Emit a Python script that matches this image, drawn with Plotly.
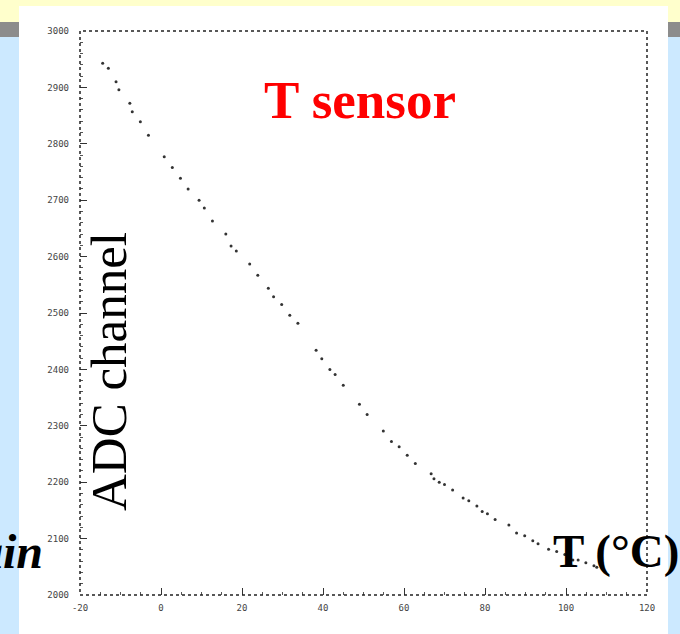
import plotly.graph_objects as go

# ---- data ----
temperature_c = [-14.4, -13.0, -11.1, -10.4, -7.7, -7.1, -5.1, -3.1, 0.8, 2.8, 4.8, 6.7,
                 9.4, 10.7, 12.7, 16.0, 17.3, 18.6, 21.9, 23.9, 26.5, 27.8, 29.8, 31.8,
                 33.8, 38.3, 39.7, 41.7, 43.0, 45.0, 49.0, 50.9, 54.9, 56.9, 58.8, 60.8,
                 62.8, 66.7, 67.4, 68.7, 70.0, 72.0, 74.6, 76.0, 78.0, 79.3, 80.6, 82.5,
                 85.9, 87.8, 89.8, 91.8, 93.1, 95.7, 97.7, 99.7, 101.7, 103.0, 104.9,
                 106.9, 107.6, 108.9]
adc_channel = [2943, 2934, 2910, 2896, 2872, 2857, 2839, 2815, 2777, 2758, 2739, 2720,
               2700, 2686, 2663, 2640, 2619, 2610, 2587, 2567, 2544, 2529, 2515, 2496,
               2482, 2434, 2419, 2400, 2391, 2372, 2338, 2320, 2291, 2272, 2263, 2248,
               2233, 2215, 2206, 2200, 2196, 2186, 2172, 2167, 2158, 2148, 2144, 2134,
               2124, 2110, 2105, 2096, 2091, 2081, 2077, 2072, 2062, 2062, 2057, 2052,
               2049, 2048]
x_ticks = [-20, 0, 20, 40, 60, 80, 100, 120]
y_ticks = [2000, 2100, 2200, 2300, 2400, 2500, 2600, 2700, 2800, 2900, 3000]

title_text = "T sensor"
x_label = "T (°C)"
y_label = "ADC channel"
side_text = "ain"

# ---- layout geometry (pixels) ----
W, H = 680, 634
L, R, T, B = 80, 647, 31, 595


def px(xp):
    return (xp - L) / (R - L)


def py(yp):
    return (B - yp) / (B - T)


fig = go.Figure()
fig.add_trace(go.Scatter(
    x=temperature_c, y=adc_channel, mode="markers",
    marker=dict(size=3, color="#333333"),
    showlegend=False, hoverinfo="skip"))

shapes = [
    # slide background bands
    dict(type="rect", xref="paper", yref="paper", x0=px(0), x1=px(W), y0=py(0), y1=py(22),
         fillcolor="#FFFFCC", line=dict(width=0), layer="below"),
    dict(type="rect", xref="paper", yref="paper", x0=px(0), x1=px(W), y0=py(22), y1=py(37),
         fillcolor="#8C8C8C", line=dict(width=0), layer="below"),
    # white panel
    dict(type="rect", xref="paper", yref="paper", x0=px(19), x1=px(668), y0=py(6), y1=py(H + 5),
         fillcolor="white", line=dict(width=0), layer="below"),
    # dotted frame
    dict(type="rect", xref="paper", yref="paper", x0=0, x1=1, y0=0, y1=1,
         line=dict(color="#222222", width=1.5, dash="dot"), layer="above"),
]

annotations = [
    dict(text=title_text, xref="paper", yref="paper", x=px(360), y=py(100),
         showarrow=False, xanchor="center", yanchor="middle",
         font=dict(family="Liberation Serif", size=53, color="#FF0000", weight="bold")),
    dict(text=y_label, xref="paper", yref="paper", x=px(109), y=py(372),
         showarrow=False, xanchor="center", yanchor="middle", textangle=-90,
         font=dict(family="Liberation Serif", size=51, color="black")),
    dict(text=x_label, xref="paper", yref="paper", x=px(551), y=py(551),
         showarrow=False, xanchor="left", yanchor="middle",
         font=dict(family="Liberation Serif", size=47, color="black", weight="bold")),
    dict(text="<i>" + side_text + "</i>", xref="paper", yref="paper", x=px(45), y=py(551),
         showarrow=False, xanchor="right", yanchor="middle",
         font=dict(family="Liberation Serif", size=48, color="black", weight="bold")),
]

tickfont = dict(family="DejaVu Sans Mono", size=9, color="#444444")

fig.update_layout(
    width=W, height=H,
    margin=dict(l=L, r=W - R, t=T, b=H - B, pad=0),
    paper_bgcolor="#CCE9FF", plot_bgcolor="white",
    shapes=shapes, annotations=annotations,
    xaxis=dict(range=[-20, 120], tickvals=x_ticks, ticktext=[str(v) for v in x_ticks],
               ticks="inside", ticklen=7, tickcolor="#333333", tickwidth=1,
               minor=dict(dtick=5, ticks="inside", ticklen=3, tickcolor="#555555"),
               showgrid=False, zeroline=False, showline=False, tickfont=tickfont,
               ticklabelstandoff=6, fixedrange=True),
    yaxis=dict(range=[2000, 3000], tickvals=y_ticks, ticktext=[str(v) for v in y_ticks],
               ticks="inside", ticklen=7, tickcolor="#333333", tickwidth=1,
               minor=dict(dtick=20, ticks="inside", ticklen=3, tickcolor="#555555"),
               showgrid=False, zeroline=False, showline=False, tickfont=tickfont,
               ticklabelstandoff=10, fixedrange=True),
)

fig.write_html("out.html")
